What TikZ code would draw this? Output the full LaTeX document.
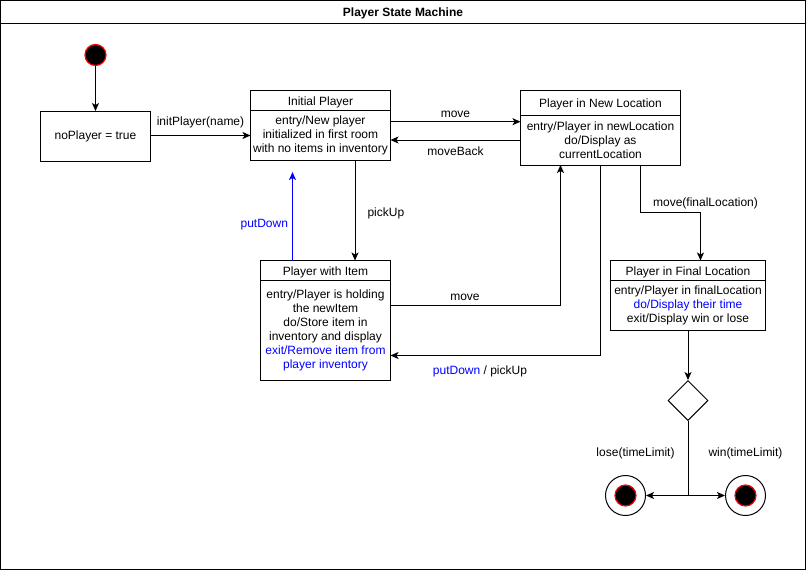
\documentclass[tikz,border=0pt]{standalone}
\usepackage{fontspec}
\setmainfont{Liberation Sans}
\usetikzlibrary{arrows.meta, positioning, shapes.geometric, calc}
\definecolor{cblue}{HTML}{0000FF}
\definecolor{cred}{HTML}{FF0000}
\tikzset{
  every picture/.style={font=\fontsize{12}{14}\selectfont, line width=1pt},
  box/.style={draw=black, fill=white, align=center, inner sep=2pt, outer sep=0pt},
  arrow/.style={-{Stealth[length=8pt, width=7pt, inset=2pt]}, draw=black, line width=1pt},
  title/.style={font=\fontsize{12}{14}\selectfont\bfseries},
  note/.style={align=center, inner sep=1pt, text height=9pt, text depth=3pt},
}
\begin{document}
\begin{tikzpicture}[x=1pt, y=-1pt,
  statehead/.style={box, text height=10pt, text depth=1pt},
  statebody/.style={box},
  startdot/.style={circle, fill=black, draw=cred, line width=1.2pt, minimum size=21pt, inner sep=0pt},
  enddot/.style={circle, draw=black, fill=white, minimum size=40pt, inner sep=0pt,
    path picture={\draw[draw=cred, fill=black, line width=1.2pt] (path picture bounding box.center) circle[radius=10.5pt];}}]
  \useasboundingbox (0,0) rectangle (807,571);
  % frame and heading
  \draw (0.5,0.5) rectangle (805.5,569.5);
  \draw (0.5,23) -- (805.5,23);
  \node[title] (hdr) at (403,13.5) {Player State Machine};
  % states
  \node[startdot] (begin) at (95.5,55) {};
  \node[box, minimum width=110pt, minimum height=50pt] (noplayer) at (95.5,136) {noPlayer = true};
  \foreach \n/\x/\y/\w/\h/\hb/\t/\b in {
     init/250.5/90.5/140/20/50/{Initial Player}/{entry/New player\\initialized in first room\\with no items in inventory},
     newloc/520.5/90.5/160/24.5/50/{Player in New Location}/{entry/Player in newLocation\\do/Display as\\currentLocation},
     item/260.5/260.5/130/20/100/{Player with Item}/{entry/Player is holding\\the newItem\\do/Store item in\\inventory and display\\\textcolor{cblue}{exit/Remove item from}\\\textcolor{cblue}{player inventory}},
     final/610.5/260.5/155/20/50/{Player in Final Location}/{entry/Player in finalLocation\\\textcolor{cblue}{do/Display their time}\\exit/Display win or lose}} {
    \node[statehead, minimum width=\w*1pt, minimum height=\h*1pt] (\n-t) at ({\x+\w/2},{\y+\h/2}) {\t};
    \node[statebody, minimum width=\w*1pt, minimum height=\hb*1pt, below=0pt of \n-t] (\n-b) {\b};
  }
  \node[diamond, draw, minimum width=40pt, minimum height=40pt, inner sep=0pt] (choice) at (688,400.5) {};
  \node[enddot] (lose) at (625.5,495.5) {};
  \node[enddot] (win) at (745.5,495.5) {};
  \coordinate (putdown-end) at (292.5,172);
  \coordinate (fork) at (688,495.5);
  % transitions
  \draw[arrow] (begin) -- (noplayer);
  \draw[arrow] (noplayer.east |- init-b) -- node[note, above=5.5pt] {initPlayer(name)} (init-b);
  \draw[arrow] ([yshift=13.8pt]init-b.east) -- node[note, above=0pt] {move} ([yshift=18.3pt]newloc-b.west);
  \draw[arrow] (newloc-b.west) -- node[note, below=4.5pt] {moveBack} ([yshift=-4.5pt]init-b.east);
  \draw[arrow] ([xshift=34.5pt]init-b.south) -- node[note, right=11pt, pos=.525] {pickUp} ([xshift=29.5pt]item-t.north);
  \draw[arrow, draw=cblue] ([xshift=-33pt]item-t.north) -- node[note, left=3pt, pos=.41, text=cblue] {putDown} (putdown-end);
  \draw[arrow] ([yshift=25pt]item-b.east) -| node[note, above=1pt, pos=.219] {move} ([xshift=-40pt]newloc-b.south);
  \draw[arrow] (newloc-b.south) |- node[note, below=8.5pt, pos=.787] {\textcolor{cblue}{putDown} / pickUp} ([yshift=-25pt]item-b.east);
  \draw[arrow] ([xshift=40pt]newloc-b.south) -- ++(0,47.5) -| ([xshift=12.5pt]final-t.north);
  \node[note] (finall) at (705.5,203.5) {move(finalLocation)};
  \draw[arrow] (final-b.south) -- (choice.north);
  \draw (choice.south) -- (fork);
  \draw[arrow] (fork) -- (lose);
  \draw[arrow] (fork) -- (win);
  \node[note] (losel) at (635.5,453) {lose(timeLimit)};
  \node[note] (winl) at (745.5,453) {win(timeLimit)};
\end{tikzpicture}
\end{document}
